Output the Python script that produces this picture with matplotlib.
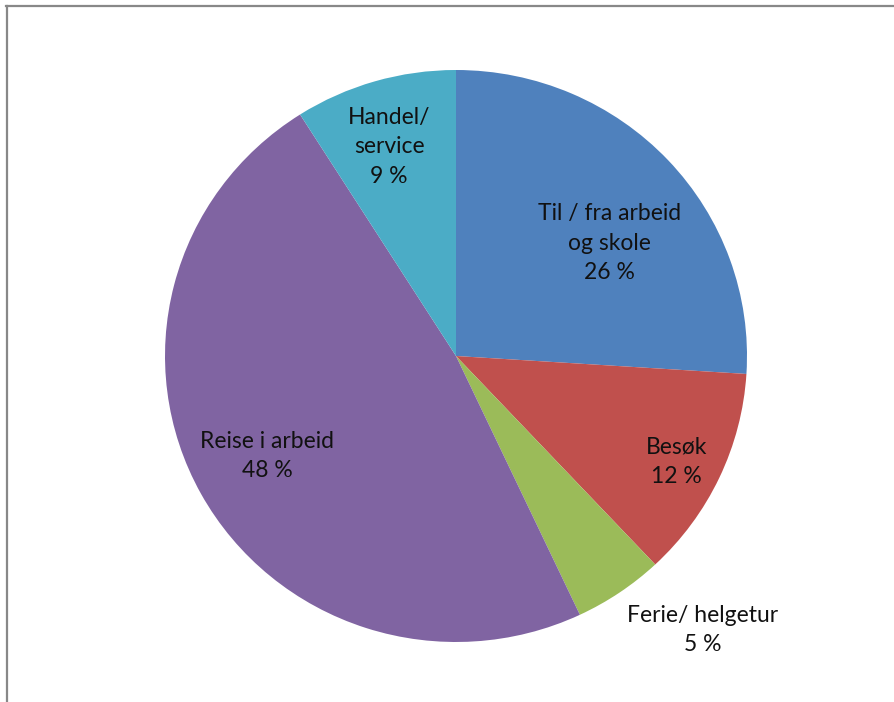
import matplotlib.pyplot as plt
from matplotlib.lines import Line2D

# Reisehensikt, andel i prosent
kategorier = ['Til / fra arbeid\nog skole', 'Besøk', 'Ferie/ helgetur',
              'Reise i arbeid', 'Handel/\nservice']
andel = [26, 12, 5, 48, 9]
farger = ['#4F81BD', '#C0504D', '#9BBB59', '#8064A2', '#4BACC6']

# plassering av etikettene (x, y i aksekoordinater, radius 1)
etikett_pos = [(0.526, 0.395), (0.759, -0.37), (0.849, -0.958),
               (-0.649, -0.350), (-0.230, 0.731)]

plt.rcParams['font.family'] = ['Lato', 'DejaVu Sans']

fig = plt.figure(figsize=(8.94, 7.02), dpi=100)
ax = fig.add_axes([165 / 894, 60 / 702, 582 / 894, 572 / 702])

ax.pie(andel, colors=farger, startangle=90, counterclock=False,
       wedgeprops=dict(linewidth=0))
ax.set_aspect('auto')
ax.set_xlim(-1, 1)
ax.set_ylim(-1, 1)
ax.axis('off')

for navn, verdi, (x, y) in zip(kategorier, andel, etikett_pos):
    ax.text(x, y, f'{navn}\n{verdi} %', ha='center', va='center',
            fontsize=16.5, color='#111111', linespacing=1.5)

# ramme oppe og til venstre
fig.add_artist(Line2D([7 / 894, 7 / 894], [0, 1 - 6 / 702],
                      transform=fig.transFigure, color='#888888', lw=1.6))
fig.add_artist(Line2D([6 / 894, 1], [1 - 6 / 702, 1 - 6 / 702],
                      transform=fig.transFigure, color='#888888', lw=1.6))

fig.savefig('out.png', dpi=100)
